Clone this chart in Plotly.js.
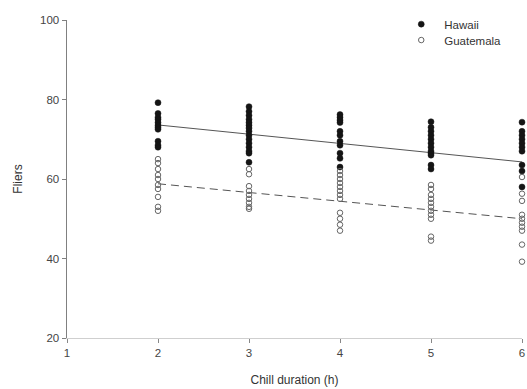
<!DOCTYPE html>
<html>
<head>
<meta charset="utf-8">
<script src="https://cdn.plot.ly/plotly-3.0.1.min.js"></script>
<style>html,body{margin:0;padding:0;background:#fff;}#chart{width:527px;height:389px;}</style>
</head>
<body>
<div id="chart"></div>
<script>
// Chill duration categories (hours)
const durations = [2, 3, 4, 5, 6];

// Hawaii fliers per duration
const hawaii2 = [79.2, 76.5, 75.5, 75, 74.2, 73.5, 73, 72.5, 69.5, 68.5, 68];
const hawaii3 = [78.2, 77, 76, 75, 74.2, 73.5, 72.8, 72, 71, 70, 69, 68, 67, 66.5, 64.2];
const hawaii4 = [76.2, 75.5, 74.8, 74.2, 72, 71, 69.5, 68.5, 66.5, 65.2, 63];
const hawaii5 = [74.4, 73, 72, 71, 70, 69, 68, 67, 66.5, 66, 63.5, 62.5];
const hawaii6 = [74.3, 72, 71, 70, 69, 68, 67, 63.5, 62, 58];

// Guatemala fliers per duration
const guate2 = [65, 64, 62.5, 61, 60, 58.5, 57.5, 55.5, 53, 52];
const guate3 = [62.5, 61.2, 58.2, 57, 56, 55, 54, 53, 52.5];
const guate4 = [62, 61, 60, 59, 58, 57, 56, 55, 51.5, 50, 48.5, 47];
const guate5 = [58.5, 57.5, 56, 55, 54, 53, 52, 51, 50, 45.5, 44.5];
const guate6 = [60.5, 56.3, 54.5, 51, 50, 49, 48, 47, 43.5, 39.2];

// Regression line end points
const fitX = [2, 6];
const hawaiiFit = [73.6, 64.3];
const guateFit = [58.8, 50.0];

// Tick labels
const xTicks = [1, 2, 3, 4, 5, 6];
const yTicks = [20, 40, 60, 80, 100];

const hawaiiSets = [hawaii2, hawaii3, hawaii4, hawaii5, hawaii6];
const guateSets = [guate2, guate3, guate4, guate5, guate6];

function flatten(sets) {
  const xs = [], ys = [];
  sets.forEach((vals, i) => vals.forEach(v => { xs.push(durations[i]); ys.push(v); }));
  return {xs, ys};
}
const h = flatten(hawaiiSets);
const g = flatten(guateSets);

const traces = [
  {x: fitX, y: hawaiiFit, mode: 'lines', line: {color: '#555', width: 1}, showlegend: false, hoverinfo: 'skip'},
  {x: fitX, y: guateFit, mode: 'lines', line: {color: '#555', width: 1, dash: '8px,5px'}, showlegend: false, hoverinfo: 'skip'},
  {x: h.xs, y: h.ys, mode: 'markers', name: 'Hawaii', cliponaxis: false, legend: 'legend',
   marker: {symbol: 'circle', size: 6, color: '#151515', line: {color: '#151515', width: 0.5}}},
  {x: g.xs, y: g.ys, mode: 'markers', name: 'Guatemala', cliponaxis: false, legend: 'legend2',
   marker: {symbol: 'circle-open', size: 5.5, color: '#666', line: {color: '#666', width: 1}}}
];

const legendBase = {xanchor: 'left', yanchor: 'middle', bgcolor: 'rgba(0,0,0,0)',
                    font: {size: 11.5, color: '#333'}, itemwidth: 36};

const layout = {
  width: 527, height: 389,
  margin: {l: 67, r: 5, t: 20, b: 51},
  paper_bgcolor: '#fff', plot_bgcolor: '#fff',
  font: {family: 'Liberation Sans, Arial, sans-serif', size: 11, color: '#444'},
  xaxis: {
    range: [1, 6], tickvals: xTicks, ticktext: xTicks.map(String),
    showgrid: false, zeroline: false,
    showline: true, linecolor: '#cfcfcf', linewidth: 1,
    ticks: 'outside', ticklen: 4, tickcolor: '#888',
    tickfont: {size: 11.5, color: '#444'},
    title: {text: 'Chill duration (h)', font: {size: 12, color: '#333'}, standoff: 17}
  },
  yaxis: {
    range: [20, 100], tickvals: yTicks, ticktext: yTicks.map(String),
    showgrid: false, zeroline: false,
    showline: true, linecolor: '#808080', linewidth: 1.5,
    ticks: 'outside', ticklen: 4, tickcolor: '#808080',
    tickfont: {size: 11.5, color: '#444'},
    title: {text: 'Fliers', font: {size: 12, color: '#333'}, standoff: 15}
  },
  legend: Object.assign({x: 0.728, y: 0.987}, legendBase),
  legend2: Object.assign({x: 0.728, y: 0.937}, legendBase),
  showlegend: true
};

Plotly.newPlot('chart', traces, layout, {staticPlot: true, displayModeBar: false});
</script>
</body>
</html>
